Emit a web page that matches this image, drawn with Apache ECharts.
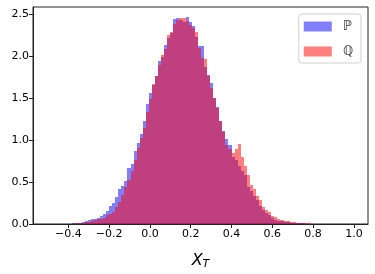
<!DOCTYPE html>
<html>
<head>
<meta charset="utf-8">
<script src="https://cdn.jsdelivr.net/npm/echarts@6/dist/echarts.min.js"></script>
<style>
html,body{margin:0;padding:0;background:#fff;}
#chart{width:375px;height:274px;}
</style>
</head>
<body>
<div id="chart"></div>
<script>
// Histogram bins (common to both series)
const binStart = -0.5;
const binWidth = 0.015;

// Density of X_T under P (blue), one value per bin
const pDensity = [
  0, 0, 0, 0, 0, 0, 0.002, 0.004, 0.010, 0.012,
  0.015, 0.027, 0.039, 0.051, 0.063, 0.063, 0.075, 0.099, 0.123, 0.158,
  0.218, 0.254, 0.325, 0.420, 0.456, 0.515, 0.670, 0.718, 0.873, 0.968,
  1.075, 1.230, 1.432, 1.563, 1.658, 1.765, 1.944, 1.990, 2.134, 2.220,
  2.280, 2.444, 2.456, 2.430, 2.410, 2.468, 2.408, 2.360, 2.230, 2.122,
  2.122, 1.872, 1.777, 1.682, 1.504, 1.397, 1.230, 1.111, 1.015, 0.944,
  0.800, 0.765, 0.694, 0.635, 0.587, 0.444, 0.396, 0.337, 0.289, 0.218,
  0.170, 0.135, 0.105, 0.075, 0.051, 0.039, 0.039, 0.027, 0.027, 0.015,
  0.015, 0.010, 0.008, 0.006, 0.004, 0.002, 0, 0, 0, 0,
  0, 0, 0, 0, 0, 0, 0, 0, 0, 0
];

// Density of X_T under Q (red), one value per bin
const qDensity = [
  0, 0, 0, 0, 0, 0, 0, 0.002, 0.005, 0.008,
  0.010, 0.015, 0.020, 0.027, 0.039, 0.051, 0.063, 0.063, 0.075, 0.111,
  0.123, 0.146, 0.206, 0.265, 0.349, 0.444, 0.527, 0.634, 0.765, 0.908,
  1.027, 1.146, 1.337, 1.490, 1.670, 1.765, 1.896, 2.015, 2.087, 2.254,
  2.290, 2.385, 2.430, 2.456, 2.456, 2.420, 2.370, 2.337, 2.290, 2.100,
  1.980, 1.967, 1.765, 1.622, 1.504, 1.385, 1.230, 1.099, 0.944, 0.896,
  0.849, 0.896, 0.956, 0.800, 0.694, 0.587, 0.468, 0.420, 0.337, 0.289,
  0.206, 0.170, 0.146, 0.099, 0.087, 0.063, 0.051, 0.039, 0.039, 0.027,
  0.027, 0.015, 0.015, 0.015, 0.011, 0.006, 0.004, 0, 0, 0,
  0, 0, 0, 0, 0, 0, 0, 0, 0, 0
];

const xTicks = [-0.4, -0.2, 0.0, 0.2, 0.4, 0.6, 0.8, 1.0];
const yTicks = [0.0, 0.5, 1.0, 1.5, 2.0, 2.5];
const seriesNames = ['\u2119', '\u211A'];

function toBins(dens) {
  return dens.map((v, i) => {
    const x0 = binStart + i * binWidth;
    return [x0, x0 + binWidth, v];
  });
}

function renderBar(params, api) {
  const p0 = api.coord([api.value(0), api.value(2)]);
  const p1 = api.coord([api.value(1), 0]);
  const x0 = Math.round(p0[0]), x1 = Math.round(p1[0]);
  const yTop = Math.round(p0[1]), yBot = Math.round(p1[1]);
  if (yBot - yTop <= 0) return null;
  return {
    type: 'rect',
    shape: { x: x0, y: yTop, width: x1 - x0, height: yBot - yTop },
    style: { fill: api.visual('color') }
  };
}

const chart = echarts.init(document.getElementById('chart'), null, { renderer: 'canvas' });
const font = 'DejaVu Sans';

chart.setOption({
  animation: false,
  backgroundColor: '#fff',
  grid: {
    left: 33, right: 7, top: 7, bottom: 50,
    outerBoundsMode: 'none',
    containLabel: false,
    show: true, borderColor: '#222', borderWidth: 1, backgroundColor: 'transparent'
  },
  legend: {
    orient: 'vertical',
    right: 14, top: 14,
    padding: [6, 8, 5, 5],
    itemGap: 12,
    itemWidth: 28, itemHeight: 10,
    borderColor: '#d0d0d0', borderWidth: 1, borderRadius: 3,
    backgroundColor: 'rgba(255,255,255,0.8)',
    icon: 'rect',
    textStyle: { fontFamily: font, fontSize: 13, color: '#333', padding: [0, 0, 0, 6] },
    data: seriesNames
  },
  xAxis: {
    type: 'value',
    min: -0.573, max: 1.069,
    name: '{x|X}{t|T}',
    nameLocation: 'middle',
    nameGap: 27,
    nameTextStyle: {
      rich: {
        x: { fontFamily: font, fontStyle: 'italic', fontSize: 16, color: '#000' },
        t: { fontFamily: font, fontStyle: 'italic', fontSize: 11, color: '#000', padding: [8, 0, 0, 0] }
      }
    },
    splitLine: { show: false },
    axisLine: { show: true, onZero: false, lineStyle: { color: '#222', width: 1 } },
    axisTick: { show: true, length: 4, lineStyle: { color: '#222' }, customValues: xTicks },
    axisLabel: {
      fontFamily: font, fontSize: 11, color: '#000', margin: 5,
      customValues: xTicks,
      formatter: v => v.toFixed(1).replace('-', '\u2212')
    }
  },
  yAxis: {
    type: 'value',
    min: 0, max: 2.587,
    splitLine: { show: false },
    axisLine: { show: true, onZero: false, lineStyle: { color: '#222', width: 1 } },
    axisTick: { show: true, length: 4, lineStyle: { color: '#222' }, customValues: yTicks },
    axisLabel: {
      fontFamily: font, fontSize: 11, color: '#000', margin: 4,
      customValues: yTicks,
      formatter: v => v.toFixed(1)
    }
  },
  series: [
    {
      name: seriesNames[0],
      type: 'custom',
      renderItem: renderBar,
      itemStyle: { color: 'rgba(0,0,255,0.5)' },
      encode: { x: [0, 1], y: 2 },
      data: toBins(pDensity),
      z: 2
    },
    {
      name: seriesNames[1],
      type: 'custom',
      renderItem: renderBar,
      itemStyle: { color: 'rgba(255,0,0,0.5)' },
      encode: { x: [0, 1], y: 2 },
      data: toBins(qDensity),
      z: 3
    }
  ]
});
</script>
</body>
</html>
